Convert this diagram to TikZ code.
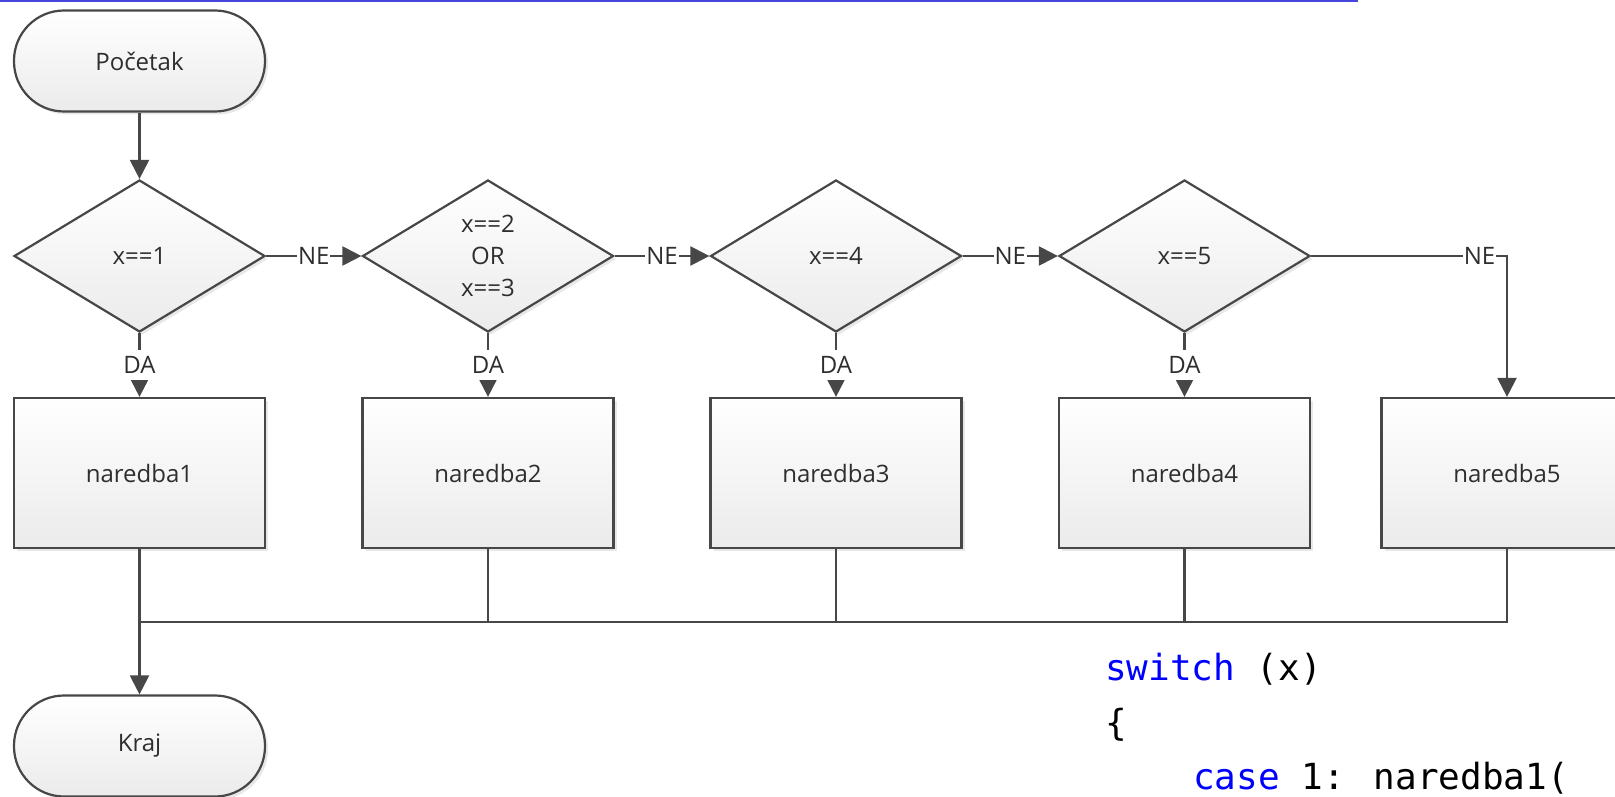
\documentclass[tikz,border=0pt]{standalone}
\usepackage{fontspec}
\setmainfont{Open Sans}
\newfontfamily\codefont{DejaVu Sans Mono}
\usetikzlibrary{shapes.geometric,arrows.meta,shadows}
\definecolor{ln}{HTML}{474747}
\definecolor{kw}{HTML}{0000FF}
\definecolor{topline}{HTML}{4646DC}
\definecolor{fillbot}{HTML}{EBEBEB}
\begin{document}
\begin{tikzpicture}[x=1pt,y=-1pt,
  base/.style={draw=ln, line width=2.2pt, top color=white, bottom color=fillbot,
    font=\fontsize{24}{32}\selectfont, text=black!82, align=center,
    drop shadow={shadow xshift=3pt, shadow yshift=-3pt, opacity=0.18}},
  termbox/.style={base, rectangle, rounded corners=50pt, minimum width=251pt, minimum height=101pt},
  decbox/.style={base, diamond, minimum width=251pt, minimum height=152pt, inner sep=0pt},
  procbox/.style={base, rectangle, minimum width=251pt, minimum height=150pt},
  conn/.style={draw=ln, line width=2.2pt},
  arr/.style={conn, -{Triangle[length=19pt,width=19pt]}},
  lbl/.style={fill=white, inner xsep=1pt, inner ysep=6pt, font=\fontsize{24}{28}\selectfont, text=black!82},
  code/.style={font=\codefont\fontsize{36}{40}\selectfont, anchor=base west, inner sep=0pt, text=black}
]
\useasboundingbox (0,0) rectangle (1615,797);
\clip (0,0) rectangle (1615,797);
\draw[topline, line width=2.5pt] (0,1) -- (1358,1);

\node[termbox] (T1) at (139.5,61) {Početak};
\node[decbox] (D1) at (139.5,256) {x==1};
\node[decbox] (D2) at (488,256) {x==2\\OR\\x==3};
\node[decbox] (D3) at (836,256) {x==4};
\node[decbox] (D4) at (1184.5,256) {x==5};
\node[procbox] (R1) at (139.5,473) {naredba1};
\node[procbox] (R2) at (488,473) {naredba2};
\node[procbox] (R3) at (836,473) {naredba3};
\node[procbox] (R4) at (1184.5,473) {naredba4};
\node[procbox] (R5) at (1507,473) {naredba5};
\node[termbox] (K) at (139.5,746) {Kraj};

\draw[arr] (T1) -- (D1);
\draw[arr] (D1) -- node[lbl]{NE} (D2);
\draw[arr] (D2) -- node[lbl]{NE} (D3);
\draw[arr] (D3) -- node[lbl]{NE} (D4);
\draw[arr] (D4) -| node[lbl, pos=0.43]{NE} (R5);
\draw[arr] (D1) -- node[lbl]{DA} (R1);
\draw[arr] (D2) -- node[lbl]{DA} (R2);
\draw[arr] (D3) -- node[lbl]{DA} (R3);
\draw[arr] (D4) -- node[lbl]{DA} (R4);

\coordinate (J1) at (139.5,622);
\draw[conn] (R5) |- (J1);
\draw[conn] (R2) -- (R2 |- J1);
\draw[conn] (R3) -- (R3 |- J1);
\draw[conn] (R4) -- (R4 |- J1);
\draw[arr] (R1) -- (K);

\node[code] (c1) at (1105,680) {\textcolor{kw}{switch} (x)};
\node[code] (c2) at (1105,735) {\{};
\node[code] (c3) at (1193,789) {\textcolor{kw}{case} 1: naredba1(};
\end{tikzpicture}
\end{document}
